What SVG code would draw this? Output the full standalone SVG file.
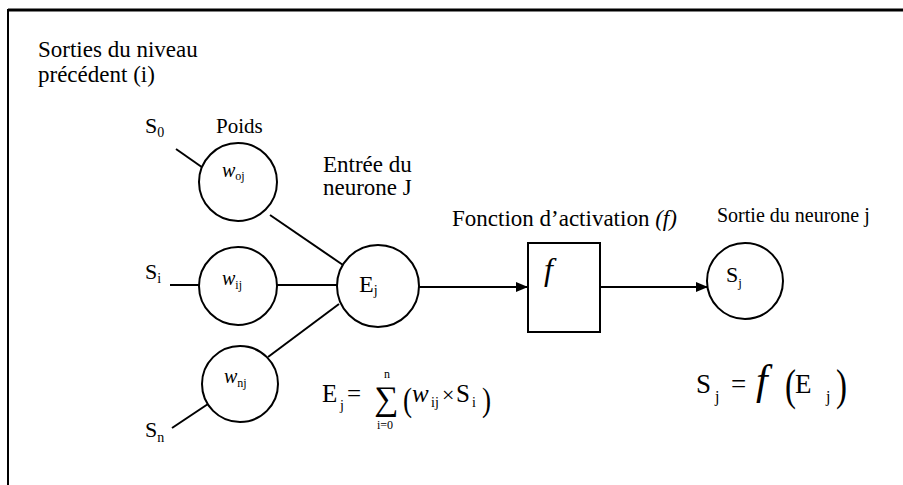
<svg xmlns="http://www.w3.org/2000/svg" width="903" height="485" viewBox="0 0 903 485">
<defs>
<style>
text{font-family:'Liberation Serif','DejaVu Serif','Noto Serif',serif;fill:#000}
.lbl{font-size:23px}
.node{fill:#fff;stroke:#000;stroke-width:2}
.con{stroke:#000;stroke-width:2;fill:none}
.it{font-style:italic}
</style>
<marker id="arr" markerWidth="12" markerHeight="10" refX="12" refY="5" orient="auto" markerUnits="userSpaceOnUse">
<path d="M0,0 L12,5 L0,10 Z" fill="#000"/>
</marker>
</defs>
<rect width="903" height="485" fill="#fff"/>
<g id="frame">
<line x1="8" y1="10" x2="903" y2="10" stroke="#000" stroke-width="3"/>
<line x1="8" y1="9" x2="8" y2="485" stroke="#000" stroke-width="2"/>
</g>
<g id="labels">
<text class="lbl" x="38" y="57">Sorties du niveau</text>
<text class="lbl" x="38" y="82">précédent (i)</text>
<text x="216" y="133" font-size="21">Poids</text>
<text class="lbl" x="323" y="172">Entrée du</text>
<text class="lbl" x="323" y="195">neurone J</text>
<text class="lbl" x="452" y="226">Fonction d’activation <tspan class="it">(f)</tspan></text>
<text x="717" y="222" font-size="20">Sortie du neurone j</text>
</g>
<g id="inputs">
<text x="145" y="133" font-size="22">S<tspan font-size="14" dy="4">0</tspan></text>
<text x="145" y="279" font-size="22">S<tspan font-size="14" dy="4">i</tspan></text>
<text x="145" y="437" font-size="22">S<tspan font-size="14" dy="5">n</tspan></text>
</g>
<g id="connectors">
<line class="con" x1="176" y1="149" x2="206" y2="170"/>
<line class="con" x1="170" y1="285" x2="199" y2="285"/>
<line class="con" x1="172" y1="428" x2="208" y2="404"/>
<line class="con" x1="270" y1="215" x2="343" y2="265"/>
<line class="con" x1="277" y1="285" x2="338" y2="285"/>
<line class="con" x1="268" y1="357" x2="339" y2="304"/>
<line class="con" x1="419" y1="287" x2="528" y2="287" marker-end="url(#arr)"/>
<line class="con" x1="600" y1="287" x2="708" y2="287" marker-end="url(#arr)"/>
</g>
<g id="w_oj">
<circle class="node" cx="238" cy="182" r="39"/>
<text x="222" y="177" font-size="20" class="it">w<tspan font-size="12" dy="3" font-style="normal">oj</tspan></text>
</g>
<g id="w_ij">
<circle class="node" cx="238" cy="286" r="39"/>
<text x="222" y="285" font-size="20" class="it">w<tspan font-size="12" dy="4" font-style="normal">ij</tspan></text>
</g>
<g id="w_nj">
<circle class="node" cx="240" cy="384" r="38"/>
<text x="224" y="383" font-size="20" class="it">w<tspan font-size="12" dy="4" font-style="normal">nj</tspan></text>
</g>
<g id="E_j">
<circle class="node" cx="378" cy="286" r="41"/>
<text x="359" y="292" font-size="24">E<tspan font-size="14" dy="3">j</tspan></text>
</g>
<g id="f_box">
<rect class="node" x="528" y="243" width="72" height="89"/>
<text x="544" y="280" font-size="32" class="it">f</text>
</g>
<g id="S_j">
<circle class="node" cx="745" cy="281" r="38"/>
<text x="726" y="282" font-size="22">S<tspan font-size="13" dy="5">j</tspan></text>
</g>
<g id="formula_E">
<text x="322" y="402" font-size="25">E</text>
<text x="340" y="410" font-size="14">j</text>
<text x="347" y="402" font-size="25">=</text>
<text x="374" y="410" font-size="34">∑</text>
<text x="384" y="378" font-size="12">n</text>
<text x="377" y="429" font-size="12">i=0</text>
<text x="403" y="411" font-size="34" transform="translate(403 411) scale(0.8 1) translate(-403 -411)">(</text>
<text x="412" y="402" font-size="25" class="it">w</text>
<text x="431" y="407" font-size="14">ij</text>
<text x="442" y="402" font-size="22">×</text>
<text x="456" y="402" font-size="25">S</text>
<text x="472" y="407" font-size="14">i</text>
<text x="482" y="411" font-size="34" transform="translate(482 411) scale(0.8 1) translate(-482 -411)">)</text>
</g>
<g id="formula_S">
<text x="696" y="393" font-size="27">S</text>
<text x="715" y="402" font-size="16">j</text>
<text x="731" y="393" font-size="27">=</text>
<text x="756" y="394" font-size="42" class="it">f</text>
<text x="785" y="400" font-size="44" transform="translate(785 400) scale(0.75 1) translate(-785 -400)">(</text>
<text x="795" y="393" font-size="27">E</text>
<text x="826" y="402" font-size="16">j</text>
<text x="836" y="400" font-size="44" transform="translate(836 400) scale(0.75 1) translate(-836 -400)">)</text>
</g>
</svg>
